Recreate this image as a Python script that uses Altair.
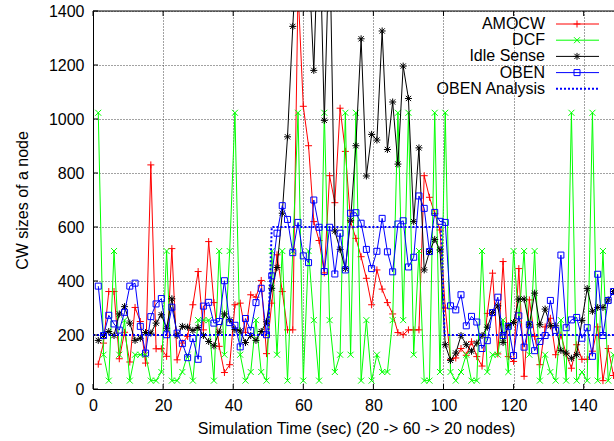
import altair as alt
import pandas as pd

# ---------------- data ----------------
times = [1.5, 3.0, 4.5, 6.0, 7.5, 9.0, 10.5, 12.0, 13.5, 15.0, 16.5, 18.0, 19.5, 21.0, 22.5,
         24.0, 25.5, 27.0, 28.5, 30.0, 31.5, 33.0, 34.5, 36.0, 37.5, 39.0, 40.5, 42.0, 43.5,
         45.0, 46.5, 48.0, 49.5, 51.0, 52.5, 54.0, 55.5, 57.0, 58.5, 60.0, 61.5, 63.0, 64.5,
         66.0, 67.5, 69.0, 70.5, 72.0, 73.5, 75.0, 76.5, 78.0, 79.5, 81.0, 82.5, 84.0, 85.5,
         87.0, 88.5, 90.0, 91.5, 93.0, 94.5, 96.0, 97.5, 99.0, 100.5, 102.0, 103.5, 105.0,
         106.5, 108.0, 109.5, 111.0, 112.5, 114.0, 115.5, 117.0, 118.5, 120.0, 121.5, 123.0,
         124.5, 126.0, 127.5, 129.0, 130.5, 132.0, 133.5, 135.0, 136.5, 138.0, 139.5, 141.0,
         142.5, 144.0, 145.5, 147.0, 148.5]

amocw = [92, 170, 361, 361, 112, 210, 100, 302, 250, 96, 830, 149, 149, 121, 520, 108, 170,
         195, 312, 435, 219, 546, 320, 158, 61, 90, 312, 318, 210, 349, 340, 402, 131, 318,
         497, 361, 219, 219, 1480, 1047, 901, 620, 550, 430, 790, 690, 1040, 880, 620, 558,
         490, 410, 312, 441, 370, 320, 278, 209, 201, 219, 219, 219, 790, 710, 650, 589, 300,
         110, 115, 150, 125, 175, 120, 85, 280, 429, 130, 472, 120, 102, 446, 47, 330, 195,
         90, 230, 262, 127, 200, 130, 77, 164, 110, 110, 140, 230, 31, 150, 50]

dcf = [1023, 127, 31, 511, 127, 255, 31, 127, 127, 127, 31, 31, 63, 511, 31, 31, 63, 127,
       31, 255, 255, 255, 31, 511, 127, 511, 1023, 127, 31, 63, 255, 63, 31, 511, 127, 511,
       31, 511, 1023, 31, 511, 255, 31, 1023, 255, 63, 127, 1023, 127, 1023, 31, 255, 31,
       127, 63, 63, 255, 1023, 255, 1023, 127, 511, 31, 31, 1023, 63, 1023, 63, 31, 63, 127,
       31, 31, 511, 63, 127, 127, 255, 63, 511, 255, 511, 127, 511, 31, 127, 63, 31, 255, 31,
       1023, 31, 63, 31, 1023, 31, 511, 31, 127]

idle_sense = [180, 198, 213, 198, 278, 305, 244, 180, 188, 209, 207, 244, 275, 225, 334, 198,
              232, 229, 217, 228, 198, 176, 160, 211, 278, 256, 220, 215, 172, 198, 180, 213,
              249, 373, 450, 651, 934, 1343, 1700, 1900, 1600, 1180, 1800, 995, 1700, 585, 517,
              446, 625, 901, 1297, 789, 943, 922, 1326, 887, 1063, 833, 1196, 1076, 620, 893,
              441, 509, 554, 515, 164, 106, 133, 198, 164, 140, 170, 198, 229, 283, 308, 172,
              234, 246, 333, 333, 238, 355, 238, 296, 234, 234, 143, 133, 114, 127, 254, 372,
              288, 302, 302, 330, 361]

oben = [381, 198, 273, 241, 218, 284, 381, 392, 232, 133, 268, 315, 335, 201, 303, 207, 168,
        116, 187, 110, 307, 321, 244, 250, 401, 246, 236, 156, 261, 217, 320, 373, 201, 419,
        577, 679, 628, 505, 617, 493, 468, 700, 599, 435, 599, 426, 577, 441, 651, 653, 614,
        517, 446, 510, 632, 508, 434, 611, 623, 452, 488, 715, 669, 509, 654, 621, 617, 308,
        293, 349, 234, 269, 248, 150, 179, 283, 340, 198, 232, 124, 271, 155, 238, 142, 176,
        198, 328, 217, 496, 227, 256, 265, 188, 227, 121, 425, 198, 328, 361]

analysis_t = [0, 50, 51, 99.3, 100.3, 148.65]
analysis_v = [200, 200, 600, 600, 200, 200]

x_ticks = [0, 20, 40, 60, 80, 100, 120, 140]
y_ticks = [0, 200, 400, 600, 800, 1000, 1200, 1400]

series_names = ["AMOCW", "DCF", "Idle Sense", "OBEN", "OBEN Analysis"]
series_colors = ["#ff0000", "#00ff00", "#000000", "#0000ff", "#0000ff"]

# ---------------- layout ----------------
W, H = 521, 378
FONT = "Liberation Sans"
XMAX = 148.65

xs = alt.Scale(domain=[0, XMAX], nice=False, zero=False)
ys = alt.Scale(domain=[0, 1400], nice=False)

x_axis = alt.Axis(values=x_ticks, title="Simulation Time (sec) (20 -> 60 -> 20 nodes)",
                  grid=True, gridDash=[1, 2], gridColor="#444", gridWidth=1,
                  ticks=False, labelPadding=8, labelFontSize=16, labelFont=FONT,
                  labelColor="black", labelFlush=False, labelOverlap=False, format="d",
                  titleFont=FONT, titleFontSize=16, titleFontWeight="normal",
                  titleColor="black", titleX=263, titleY=39, titleBaseline="middle",
                  domainColor="black", domainWidth=1)
y_axis = alt.Axis(values=y_ticks, title="CW sizes of a node",
                  grid=True, gridDash=[1, 2], gridColor="#444", gridWidth=1,
                  ticks=False, labelPadding=9, labelFontSize=16, labelFont=FONT,
                  labelColor="black", labelFlush=False, labelOverlap=False, format="d",
                  titleFont=FONT, titleFontSize=16, titleFontWeight="normal",
                  titleColor="black", titleX=-71, titleY=H / 2, titleAngle=270,
                  titleBaseline="middle", domainColor="black", domainWidth=1)

X = alt.X("t:Q", scale=xs, axis=x_axis)
Y = alt.Y("v:Q", scale=ys, axis=y_axis)

PLUS = "M-1,0L1,0M0,-1L0,1"
CROSS = "M-1,-1L1,1M-1,1L1,-1"
STAR = "M-1,0L1,0M0,-1L0,1M-0.75,-0.75L0.75,0.75M-0.75,0.75L0.75,-0.75"

SIZES = [49, 36, 49, 36]


def series(values, color, shape, size):
    df = pd.DataFrame({"t": times, "v": values})
    base = alt.Chart(df).encode(x=X, y=Y)
    line = base.mark_line(color=color, strokeWidth=1, clip=True)
    pts = base.mark_point(shape=shape, size=size, filled=False, color=color,
                          strokeWidth=1, opacity=1, clip=True)
    return [line, pts]


layers = []
layers += series(amocw, series_colors[0], PLUS, SIZES[0])
layers += series(dcf, series_colors[1], CROSS, SIZES[1])
layers += series(idle_sense, series_colors[2], STAR, SIZES[2])
layers += series(oben, series_colors[3], "square", SIZES[3])

ana_df = pd.DataFrame({"t": analysis_t, "v": analysis_v})
layers.append(alt.Chart(ana_df).mark_line(color=series_colors[4], strokeWidth=2,
                                          strokeDash=[2, 2], clip=True).encode(x=X, y=Y))

# inward ticks (gnuplot style) and top border
xt = pd.DataFrame({"t": x_ticks})
yt = pd.DataFrame({"v": y_ticks})
layers.append(alt.Chart(xt).mark_rule(color="black").encode(x=X, y=alt.value(H - 5), y2=alt.value(H)))
layers.append(alt.Chart(xt).mark_rule(color="black").encode(x=X, y=alt.value(0), y2=alt.value(5)))
layers.append(alt.Chart(yt).mark_rule(color="black").encode(y=Y, x=alt.value(0), x2=alt.value(5)))
one = pd.DataFrame({"a": [0]})
layers.append(alt.Chart(one).mark_rule(color="black", strokeWidth=1).encode(
    x=alt.value(0), x2=alt.value(W), y=alt.value(0)))

# legend (labels right-aligned, samples to the right, as in gnuplot)
shapes = [PLUS, CROSS, STAR, "square", None]
for k, name in enumerate(series_names):
    ry = 13 + 16.2 * k
    color = series_colors[k]
    layers.append(alt.Chart(pd.DataFrame({"label": [name]})).mark_text(
        align="right", baseline="middle", font=FONT, fontSize=16, color="black").encode(
        x=alt.value(452), y=alt.value(ry), text="label:N"))
    if shapes[k] is None:
        layers.append(alt.Chart(one).mark_rule(color=color, strokeWidth=2, strokeDash=[2, 2]).encode(
            x=alt.value(463), x2=alt.value(506), y=alt.value(ry)))
    else:
        layers.append(alt.Chart(one).mark_rule(color=color, strokeWidth=1).encode(
            x=alt.value(463), x2=alt.value(506), y=alt.value(ry)))
        layers.append(alt.Chart(one).mark_point(shape=shapes[k], size=SIZES[k], filled=False,
                                                color=color, strokeWidth=1, opacity=1).encode(
            x=alt.value(484), y=alt.value(ry)))

chart = alt.layer(*layers).properties(
    width=W, height=H,
    padding={"left": 93, "top": 11, "right": 0, "bottom": 52},
    autosize=alt.AutoSizeParams(type="none"),
    background="white",
).configure_view(stroke=None)

chart.save("out.html", embed_options={"renderer": "svg", "actions": False})
